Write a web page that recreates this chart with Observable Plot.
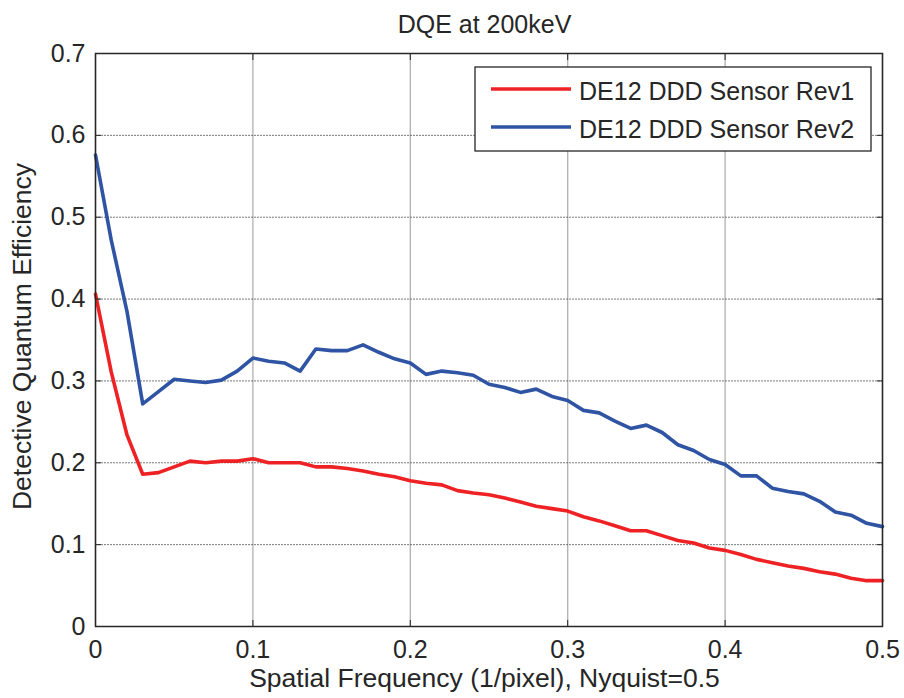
<!DOCTYPE html>
<html>
<head>
<meta charset="utf-8">
<script src="https://cdn.jsdelivr.net/npm/d3@7"></script>
<script src="https://cdn.jsdelivr.net/npm/@observablehq/plot@0.6"></script>
<style>
  html, body { margin: 0; padding: 0; background: #fff; }
  #chart { width: 904px; height: 698px; }
</style>
</head>
<body>
<div id="chart"></div>
<script>
const title = "DQE at 200keV";
const xLabel = "Spatial Frequency (1/pixel), Nyquist=0.5";
const yLabel = "Detective Quantum Efficiency";
const seriesNames = ["DE12 DDD Sensor Rev1", "DE12 DDD Sensor Rev2"];
const seriesColors = ["#ee2224", "#2f54a4"];

const freq = [0.00, 0.01, 0.02, 0.03, 0.04, 0.05, 0.06, 0.07, 0.08, 0.09,
              0.10, 0.11, 0.12, 0.13, 0.14, 0.15, 0.16, 0.17, 0.18, 0.19,
              0.20, 0.21, 0.22, 0.23, 0.24, 0.25, 0.26, 0.27, 0.28, 0.29,
              0.30, 0.31, 0.32, 0.33, 0.34, 0.35, 0.36, 0.37, 0.38, 0.39,
              0.40, 0.41, 0.42, 0.43, 0.44, 0.45, 0.46, 0.47, 0.48, 0.49, 0.50];

const rev1 = [0.406, 0.311, 0.234, 0.186, 0.188, 0.195, 0.202, 0.200, 0.202, 0.202,
              0.205, 0.200, 0.200, 0.200, 0.195, 0.195, 0.193, 0.190, 0.186, 0.183,
              0.178, 0.175, 0.173, 0.166, 0.163, 0.161, 0.157, 0.152, 0.147, 0.144,
              0.141, 0.134, 0.129, 0.123, 0.117, 0.117, 0.111, 0.105, 0.102, 0.096,
              0.093, 0.088, 0.082, 0.078, 0.074, 0.071, 0.067, 0.064, 0.059, 0.056, 0.056];

const rev2 = [0.576, 0.472, 0.385, 0.272, 0.287, 0.302, 0.300, 0.298, 0.301, 0.312,
              0.328, 0.324, 0.322, 0.312, 0.339, 0.337, 0.337, 0.344, 0.335, 0.327,
              0.322, 0.308, 0.312, 0.310, 0.307, 0.296, 0.292, 0.286, 0.290, 0.281,
              0.276, 0.264, 0.261, 0.251, 0.242, 0.246, 0.237, 0.222, 0.215, 0.204,
              0.198, 0.184, 0.184, 0.169, 0.165, 0.162, 0.153, 0.140, 0.136, 0.126, 0.122];

const xTicks = [0, 0.1, 0.2, 0.3, 0.4, 0.5];
const yTicks = [0, 0.1, 0.2, 0.3, 0.4, 0.5, 0.6, 0.7];

const data = [
  ...freq.map((f, i) => ({f, v: rev1[i], s: seriesNames[0]})),
  ...freq.map((f, i) => ({f, v: rev2[i], s: seriesNames[1]}))
];

const fmt = d => d === 0 ? "0" : d.toFixed(1);
const FONT = "'Liberation Sans', Arial, sans-serif";
const FS = 25;
const LFS = 26.5;
const INK = "#262626";

const chart = Plot.plot({
  width: 904,
  height: 698,
  marginLeft: 95,
  marginRight: 22,
  marginTop: 53,
  marginBottom: 72,
  style: {fontFamily: FONT, fontSize: FS + "px", color: INK, background: "#fff"},
  x: {domain: [0, 0.5], label: null},
  y: {domain: [0, 0.7], label: null},
  color: {domain: seriesNames, range: seriesColors},
  marks: [
    Plot.gridX(xTicks, {stroke: "#b0b0b0", strokeOpacity: 1, strokeWidth: 1.3}),
    Plot.gridY(yTicks, {stroke: "#555", strokeOpacity: 1, strokeWidth: 0.8, strokeDasharray: "2,1"}),
    Plot.line(data, {x: "f", y: "v", z: "s", stroke: "s", strokeWidth: 3.6, strokeLinejoin: "round"}),
    Plot.frame({stroke: INK, strokeWidth: 1.5}),
    // inward ticks on all four sides
    Plot.axisX(xTicks, {anchor: "bottom", tickSize: -6, tickFormat: () => "", stroke: INK}),
    Plot.axisX(xTicks, {anchor: "top", tickSize: -6, tickFormat: () => "", stroke: INK}),
    Plot.axisY(yTicks, {anchor: "left", tickSize: -6, tickFormat: () => "", stroke: INK}),
    Plot.axisY(yTicks, {anchor: "right", tickSize: -6, tickFormat: () => "", stroke: INK}),
    // tick labels
    Plot.axisX(xTicks, {anchor: "bottom", tickSize: 0, tickPadding: 14, tickFormat: fmt, fontSize: FS, fill: INK, label: null}),
    Plot.axisY(yTicks, {anchor: "left", tickSize: 0, tickPadding: 10, tickFormat: fmt, fontSize: FS, fill: INK, label: null})
  ]
});

document.getElementById("chart").appendChild(chart);

// title, axis labels and legend placed from the plot's own scale ranges
const svg = d3.select(chart);
const [x0, x1] = chart.scale("x").range;
const [yb, yt] = chart.scale("y").range;
const cx = (x0 + x1) / 2, cy = (yb + yt) / 2;

const ann = svg.append("g").attr("font-family", FONT)
  .attr("fill", INK).attr("text-anchor", "middle");
ann.append("text").attr("x", cx - 4).attr("y", yt - 20).attr("font-size", FS).text(title);
ann.append("text").attr("x", cx - 4).attr("y", yb + 61).attr("font-size", LFS).text(xLabel);
ann.append("text").attr("transform", `translate(${x0 - 64},${cy - 3}) rotate(-90)`)
  .attr("font-size", LFS).text(yLabel);

const lg = svg.append("g").attr("font-family", FONT).attr("font-size", FS).attr("text-anchor", "start");
lg.append("rect").attr("x", x1 - 407).attr("y", yt + 14).attr("width", 396).attr("height", 84)
  .attr("fill", "#fff").attr("stroke", INK).attr("stroke-width", 1.3);
seriesNames.forEach((name, i) => {
  const y = yt + 36 + i * 38;
  lg.append("line").attr("x1", x1 - 391).attr("x2", x1 - 311).attr("y1", y).attr("y2", y)
    .attr("stroke", seriesColors[i]).attr("stroke-width", 3.6);
  lg.append("text").attr("x", x1 - 303).attr("y", y + 2).attr("dy", "0.35em")
    .attr("fill", INK).text(name);
});
</script>
</body>
</html>
